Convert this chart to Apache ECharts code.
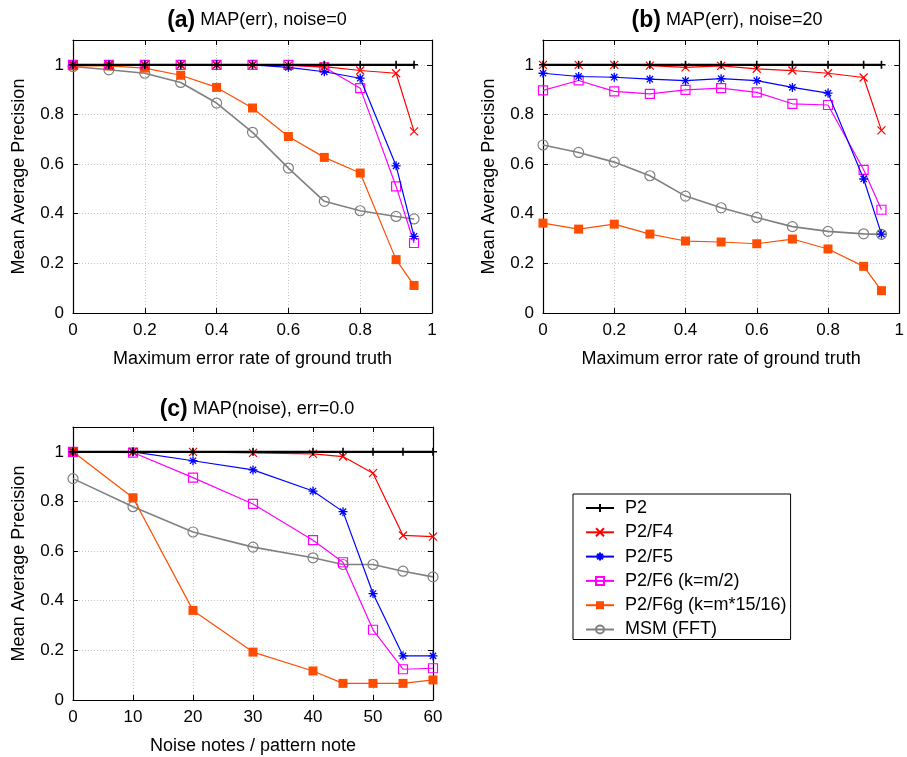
<!DOCTYPE html>
<html>
<head>
<meta charset="utf-8">
<script src="https://cdn.jsdelivr.net/npm/echarts@6/dist/echarts.min.js"></script>
<style>
  html, body { margin: 0; padding: 0; background: #fff; }
  #chart { width: 907px; height: 757px; }
</style>
</head>
<body>
<div id="chart"></div>
<script>
// x values
const errRates = [0, 0.1, 0.2, 0.3, 0.4, 0.5, 0.6, 0.7, 0.8, 0.9, 0.95];
const noiseLevels = [0, 10, 20, 30, 40, 45, 50, 55, 60];
const names = ['P2', 'P2/F4', 'P2/F5', 'P2/F6 (k=m/2)', 'P2/F6g (k=m*15/16)', 'MSM (FFT)'];

// (a) MAP(err), noise=0
const a_P2   = [1, 1, 1, 1, 1, 1, 1, 1, 1, 1, 1];
const a_F4   = [1, 1, 1, 1, 1, 1, 0.998, 0.993, 0.977, 0.966, 0.732];
const a_F5   = [1, 1, 1, 1, 1, 1, 0.99, 0.972, 0.946, 0.593, 0.309];
const a_F6   = [1, 1, 1, 1, 1, 1, 1, 0.99, 0.906, 0.51, 0.282];
const a_F6g  = [0.996, 0.996, 0.987, 0.958, 0.909, 0.826, 0.711, 0.627, 0.564, 0.215, 0.111];
const a_MSM  = [0.993, 0.98, 0.966, 0.929, 0.846, 0.728, 0.584, 0.45, 0.412, 0.389, 0.379];

// (b) MAP(err), noise=20
const b_P2   = [1, 1, 1, 1, 1, 1, 1, 1, 1, 1, 1];
const b_F4   = [1, 1, 1, 0.997, 0.99, 0.996, 0.984, 0.977, 0.966, 0.949, 0.736];
const b_F5   = [0.966, 0.953, 0.95, 0.942, 0.936, 0.944, 0.936, 0.909, 0.886, 0.54, 0.318];
const b_F6   = [0.897, 0.937, 0.893, 0.883, 0.899, 0.906, 0.889, 0.843, 0.838, 0.577, 0.416];
const b_F6g  = [0.362, 0.338, 0.358, 0.318, 0.29, 0.286, 0.279, 0.298, 0.258, 0.188, 0.09];
const b_MSM  = [0.677, 0.647, 0.608, 0.553, 0.471, 0.424, 0.385, 0.348, 0.329, 0.319, 0.317];

// (c) MAP(noise), err=0.0
const c_P2   = [1, 1, 1, 1, 1, 1, 1, 1, 1];
const c_F4   = [1, 1, 1, 0.996, 0.992, 0.981, 0.914, 0.663, 0.658];
const c_F5   = [1, 1, 0.964, 0.927, 0.842, 0.759, 0.429, 0.178, 0.178];
const c_F6   = [1, 0.997, 0.896, 0.79, 0.644, 0.555, 0.283, 0.124, 0.128];
const c_F6g  = [1, 0.815, 0.361, 0.193, 0.117, 0.067, 0.067, 0.067, 0.081];
const c_MSM  = [0.892, 0.779, 0.677, 0.616, 0.573, 0.546, 0.546, 0.519, 0.496];

const FONT = 'Liberation Sans, Arial, Helvetica, sans-serif';
const colors = ['#000000', '#ff0000', '#0000ff', '#ff00ff', '#ff4d00', '#808080'];

const plusPath = 'path://M0,5L10,5M5,0L5,10';
const crossPath = 'path://M0,0L10,10M0,10L10,0';
const starPath = 'path://M0,5L10,5M5,0L5,10M1.5,1.5L8.5,8.5M1.5,8.5L8.5,1.5';

const styles = [
  { symbol: plusPath, size: 8, width: 2.2, fill: 'rgba(0,0,0,0)', bw: 1.6 },
  { symbol: crossPath, size: 8, width: 1.2, fill: 'rgba(0,0,0,0)', bw: 1.2 },
  { symbol: starPath, size: 9, width: 1.2, fill: 'rgba(0,0,0,0)', bw: 1.3 },
  { symbol: 'rect', size: 9, width: 1.2, fill: 'rgba(0,0,0,0)', bw: 1.2 },
  { symbol: 'rect', size: 9, width: 1.2, fill: colors[4], bw: 0 },
  { symbol: 'circle', size: 10, width: 1.6, fill: 'rgba(0,0,0,0)', bw: 1.2 }
];

function pairs(xs, ys) {
  return xs.map((x, i) => [x, ys[i]]);
}

function makeSeries(idx, xs, ysList) {
  return ysList.map((ys, k) => ({
    name: names[k],
    type: 'line',
    xAxisIndex: idx * 2,
    yAxisIndex: idx * 2,
    data: pairs(xs, ys),
    symbol: styles[k].symbol,
    symbolSize: styles[k].size,
    showAllSymbol: true,
    z: 10 - k,
    lineStyle: { color: colors[k], width: styles[k].width },
    itemStyle: { color: styles[k].fill, borderColor: colors[k], borderWidth: styles[k].bw },
    emphasis: { disabled: true },
    animation: false
  }));
}

const grids = [
  { left: 73, right: 475, top: 40, height: 273 },
  { left: 543, right: 5, top: 40, height: 273 },
  { left: 73, right: 474, top: 427, height: 273 }
];

function axesFor(gi, xmin, xmax, xint, xname) {
  const gridLine = { show: true, lineStyle: { color: '#c4c4c4', type: [1, 2], width: 1 } };
  const axLine = { show: true, onZero: false, lineStyle: { color: '#000', width: 1.2 } };
  const tick = { show: true, inside: true, length: 5, lineStyle: { color: '#000' } };
  const xa = [
    {
      type: 'value', gridIndex: gi, position: 'bottom', min: xmin, max: xmax, interval: xint,
      axisLine: axLine, axisTick: tick, splitLine: gridLine,
      axisLabel: { color: '#000', fontSize: 17, fontFamily: FONT, margin: 9 },
      name: xname, nameLocation: 'middle', nameGap: 37,
      nameTextStyle: { color: '#000', fontSize: 18, fontFamily: FONT }
    },
    {
      type: 'value', gridIndex: gi, position: 'top', min: xmin, max: xmax, interval: xint,
      axisLine: axLine, axisTick: tick, splitLine: { show: false }, axisLabel: { show: false }
    }
  ];
  const ya = [
    {
      type: 'value', gridIndex: gi, position: 'left', min: 0, max: 1.1, interval: 0.2,
      axisLine: axLine, axisTick: tick, splitLine: gridLine,
      axisLabel: {
        color: '#000', fontSize: 17, fontFamily: FONT, margin: 9,
        formatter: v => (v > 1.05 ? '' : String(Math.round(v * 10) / 10))
      },
      name: 'Mean Average Precision', nameLocation: 'middle', nameGap: 45, nameRotate: 90,
      nameTextStyle: { color: '#000', fontSize: 18, fontFamily: FONT }
    },
    {
      type: 'value', gridIndex: gi, position: 'right', min: 0, max: 1.1, interval: 0.2,
      axisLine: axLine, axisTick: tick, splitLine: { show: false }, axisLabel: { show: false }
    }
  ];
  return { xa, ya };
}

const A = axesFor(0, 0, 1, 0.2, 'Maximum error rate of ground truth');
const B = axesFor(1, 0, 1, 0.2, 'Maximum error rate of ground truth');
const C = axesFor(2, 0, 60, 10, 'Noise notes / pattern note');

function panelTitle(tag, text, cx, top) {
  return {
    text: '{b|' + tag + '} {n|' + text + '}',
    left: cx, top: top, textAlign: 'center',
    textStyle: {
      fontWeight: 'normal',
      rich: {
        b: { fontSize: 23, fontWeight: 'bold', fontFamily: FONT, color: '#000' },
        n: { fontSize: 18, fontWeight: 'normal', fontFamily: FONT, color: '#000' }
      }
    }
  };
}

const chart = echarts.init(document.getElementById('chart'), null, { renderer: 'canvas' });
chart.setOption({
  backgroundColor: '#fff',
  animation: false,
  title: [
    panelTitle('(a)', 'MAP(err), noise=0', 252, 4),
    panelTitle('(b)', 'MAP(err), noise=20', 722, 4),
    panelTitle('(c)', 'MAP(noise), err=0.0', 252, 393)
  ],
  legend: {
    data: names,
    orient: 'vertical',
    left: 573, top: 494,
    padding: [5, 4, 1, 12],
    itemWidth: 28, itemHeight: 10, itemGap: 6.3,
    borderColor: '#000', borderWidth: 1,
    textStyle: { color: '#000', fontSize: 18, fontFamily: FONT, padding: [0, 0, 0, 6] },
    selectedMode: false
  },
  grid: grids,
  xAxis: [...A.xa, ...B.xa, ...C.xa],
  yAxis: [...A.ya, ...B.ya, ...C.ya],
  series: [
    ...makeSeries(0, errRates, [a_P2, a_F4, a_F5, a_F6, a_F6g, a_MSM]),
    ...makeSeries(1, errRates, [b_P2, b_F4, b_F5, b_F6, b_F6g, b_MSM]),
    ...makeSeries(2, noiseLevels, [c_P2, c_F4, c_F5, c_F6, c_F6g, c_MSM])
  ]
});
</script>
</body>
</html>
